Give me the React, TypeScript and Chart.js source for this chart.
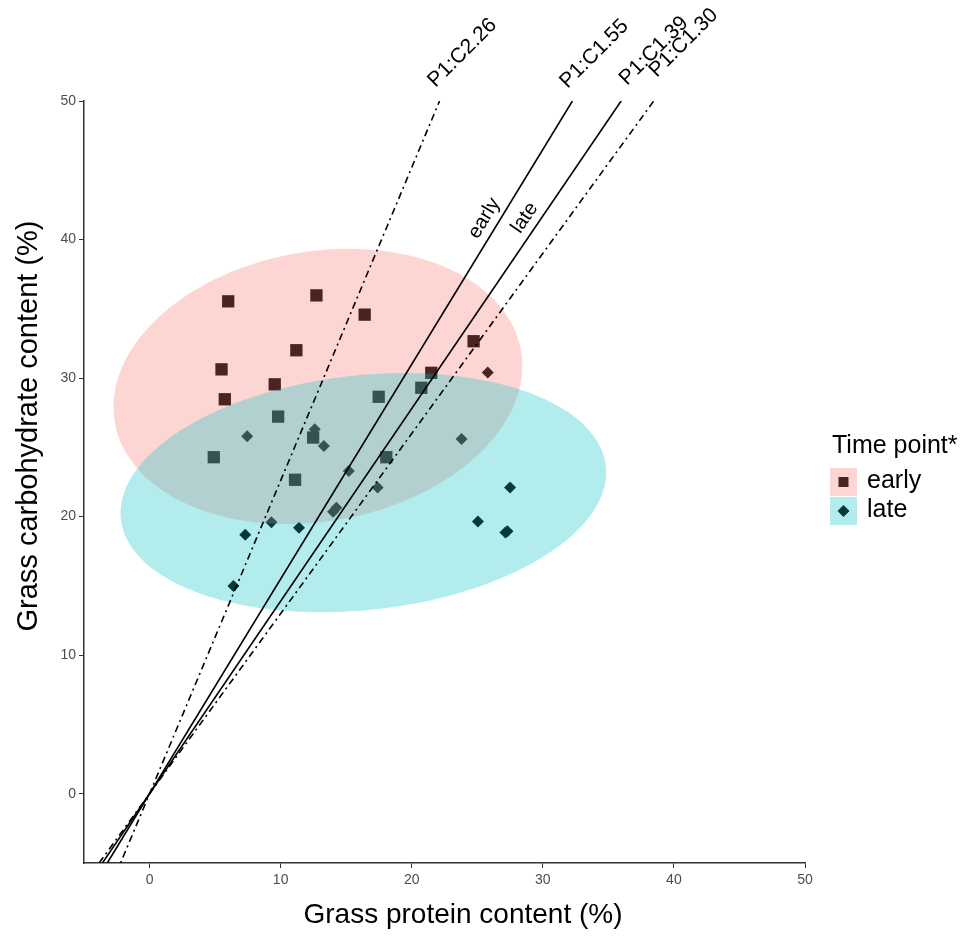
import React, { useEffect, useRef } from 'react';
import { Chart, registerables } from 'chart.js';

Chart.register(...registerables);

// ---------------- data ----------------
const earlyProtein = [6.0, 12.73, 16.41, 11.2, 5.49, 9.55, 5.74, 24.72, 21.49, 20.73, 17.48, 9.81, 12.48, 4.9, 18.06, 11.1];
const earlyCarb = [35.54, 35.97, 34.58, 32.01, 30.63, 29.55, 28.47, 32.66, 30.38, 29.3, 28.65, 27.22, 25.71, 24.29, 24.29, 22.66];

const lateProtein = [25.8, 7.45, 12.6, 13.3, 23.8, 15.2, 17.4, 27.5, 14.0, 14.25, 9.3, 11.4, 25.05, 27.15, 27.3, 7.3, 6.4];
const lateCarb = [30.4, 25.8, 26.3, 25.1, 25.6, 23.3, 22.1, 22.1, 20.35, 20.65, 19.6, 19.2, 19.65, 18.85, 18.95, 18.7, 15.0];

const groupNames = ['early', 'late'];
const legendTitle = 'Time point*';

const xTickValues = [0, 10, 20, 30, 40, 50];
const yTickValues = [0, 10, 20, 30, 40, 50];
const axisMin = [-5, -5];
const axisMax = [50, 50];

const ratioValues = [2.26, 1.55, 1.39, 1.3];
const ratioLabels = ['P1:C2.26', 'P1:C1.55', 'P1:C1.39', 'P1:C1.30'];
const ratioGroupLabels = ['', 'early', 'late', ''];
const ratioLineYRange = [-5, 50];

// confidence ellipses (data units): centre, half extents, correlation
const ellipseCenterX = [12.84, 16.31];
const ellipseCenterY = [29.4, 21.73];
const ellipseHalfWidth = [15.59, 18.52];
const ellipseHalfHeight = [9.93, 8.63];
const ellipseCorrelation = [0.15, 0.17];

const xTitle = 'Grass protein content (%)';
const yTitle = 'Grass carbohydrate content (%)';

// ---------------- styles / layout ----------------
const FONT = "'Liberation Sans', Arial, Helvetica, sans-serif";
const groupFill = ['rgba(248,118,109,0.3)', 'rgba(0,191,196,0.3)'];
const ratioDash: number[][] = [[2, 4, 7, 4], [], [], [7, 4, 2, 4]];
const labelNudge = [[-4, -13], [-5, -12], [6, -15], [3, -23]];
const groupLabelY = 41;

const overlayPlugin = {
  id: 'overlay',
  beforeDatasetsDraw(chart: any) {
    chart.$ellipsesDone = false;
  },
  beforeDatasetDraw(chart: any, args: any) {
    const ds = chart.data.datasets[args.index];
    if (!ds.isRatio || chart.$ellipsesDone) return;
    chart.$ellipsesDone = true;
    const { ctx, scales } = chart;
    const xs = scales.x;
    const ys = scales.y;
    ctx.save();
    for (let g = 0; g < 2; g++) {
      const cx = ellipseCenterX[g];
      const cy = ellipseCenterY[g];
      const wx = ellipseHalfWidth[g];
      const wy = ellipseHalfHeight[g];
      const r = ellipseCorrelation[g];
      const s = Math.sqrt(1 - r * r);
      ctx.beginPath();
      const N = 200;
      for (let i = 0; i <= N; i++) {
        const t = (2 * Math.PI * i) / N;
        const px = xs.getPixelForValue(cx + wx * Math.cos(t));
        const py = ys.getPixelForValue(cy + wy * (r * Math.cos(t) + s * Math.sin(t)));
        if (i === 0) ctx.moveTo(px, py);
        else ctx.lineTo(px, py);
      }
      ctx.closePath();
      ctx.fillStyle = groupFill[g];
      ctx.fill();
    }
    ctx.restore();
  },
  afterDraw(chart: any) {
    const { ctx, scales } = chart;
    const xs = scales.x;
    const ys = scales.y;
    ctx.save();
    ctx.fillStyle = '#000';

    // ratio labels at the line ends
    ctx.font = `21px ${FONT}`;
    ctx.textAlign = 'left';
    ctx.textBaseline = 'alphabetic';
    ratioValues.forEach((r, i) => {
      const yTop = ratioLineYRange[1];
      const ex = xs.getPixelForValue(yTop / r);
      const ey = ys.getPixelForValue(yTop);
      ctx.save();
      ctx.translate(ex + labelNudge[i][0], ey + labelNudge[i][1]);
      ctx.rotate(-Math.PI / 4);
      ctx.fillText(ratioLabels[i], 0, 0);
      ctx.restore();
    });

    // group labels along the solid lines
    ctx.font = `20px ${FONT}`;
    ctx.textAlign = 'center';
    ctx.textBaseline = 'middle';
    ratioValues.forEach((r, i) => {
      if (!ratioGroupLabels[i]) return;
      const x0 = xs.getPixelForValue(0), y0 = ys.getPixelForValue(0);
      const x1 = xs.getPixelForValue(50 / r), y1 = ys.getPixelForValue(50);
      const ang = Math.atan2(y1 - y0, x1 - x0);
      const px = xs.getPixelForValue(groupLabelY / r);
      const py = ys.getPixelForValue(groupLabelY);
      const off = 14;
      ctx.save();
      ctx.translate(px + off * Math.sin(ang), py - off * Math.cos(ang));
      ctx.rotate(ang);
      ctx.fillText(ratioGroupLabels[i], 0, 0);
      ctx.restore();
    });

    // axis titles
    ctx.font = `28px ${FONT}`;
    ctx.textAlign = 'center';
    ctx.textBaseline = 'middle';
    ctx.fillText(xTitle, 455, 907);
    ctx.font = `29px ${FONT}`;
    ctx.save();
    ctx.translate(21, 418);
    ctx.rotate(-Math.PI / 2);
    ctx.fillText(yTitle, 0, 0);
    ctx.restore();

    // legend
    ctx.font = `25px ${FONT}`;
    ctx.textAlign = 'left';
    ctx.textBaseline = 'middle';
    ctx.fillText(legendTitle, 824, 438);
    const boxX = 822, boxW = 27;
    const boxY = [460, 489];
    const boxH = [28, 28];
    for (let g = 0; g < 2; g++) {
      const cx = boxX + boxW / 2;
      const cy = boxY[g] + boxH[g] / 2;
      ctx.fillStyle = '#fff';
      ctx.fillRect(boxX, boxY[g], boxW, boxH[g]);
      ctx.fillStyle = '#000';
      ctx.beginPath();
      if (g === 0) {
        ctx.rect(cx - 5, cy - 5, 10, 10);
      } else {
        ctx.moveTo(cx, cy - 6);
        ctx.lineTo(cx + 6, cy);
        ctx.lineTo(cx, cy + 6);
        ctx.lineTo(cx - 6, cy);
        ctx.closePath();
      }
      ctx.fill();
      ctx.fillStyle = groupFill[g];
      ctx.fillRect(boxX, boxY[g], boxW, boxH[g]);
      ctx.fillStyle = '#000';
      ctx.font = `25px ${FONT}`;
      ctx.fillText(groupNames[g], 859, cy - 1);
    }
    ctx.restore();
  },
};

export default function App() {
  const canvasRef = useRef<HTMLCanvasElement | null>(null);

  useEffect(() => {
    if (!canvasRef.current) return;
    Chart.defaults.font.family = FONT;

    const ratioDatasets = ratioValues.map((r, i) => ({
      label: ratioLabels[i],
      isRatio: true,
      data: ratioLineYRange.map((yv) => ({ x: yv / r, y: yv })),
      showLine: true,
      borderColor: '#000',
      borderWidth: 1.6,
      borderDash: ratioDash[i],
      pointRadius: 0,
      fill: false,
      order: 1,
    }));

    const chart = new Chart(canvasRef.current, {
      type: 'scatter',
      data: {
        datasets: [
          {
            label: groupNames[0],
            data: earlyProtein.map((x, i) => ({ x, y: earlyCarb[i] })),
            pointStyle: 'rect',
            pointRadius: 8.7,
            backgroundColor: '#000',
            borderWidth: 0,
            order: 2,
          },
          {
            label: groupNames[1],
            data: lateProtein.map((x, i) => ({ x, y: lateCarb[i] })),
            pointStyle: 'rectRot',
            pointRadius: 6,
            backgroundColor: '#000',
            borderWidth: 0,
            order: 2,
          },
          ...ratioDatasets,
        ] as any,
      },
      options: {
        animation: false,
        responsive: true,
        maintainAspectRatio: false,
        layout: { padding: { top: 93, right: 160, bottom: 0, left: 0 } },
        plugins: { legend: { display: false }, tooltip: { enabled: false } },
        scales: {
          x: {
            type: 'linear',
            min: axisMin[0],
            max: axisMax[0],
            afterBuildTicks: (s: any) => {
              s.ticks = xTickValues.map((v) => ({ value: v }));
            },
            afterFit: (s: any) => {
              s.height = 68;
            },
            grid: { drawOnChartArea: false, drawTicks: true, tickLength: 5, color: '#333', lineWidth: 1 },
            border: { display: true, color: '#333', width: 1.5 },
            ticks: { color: '#4d4d4d', font: { size: 14 }, padding: 4, maxRotation: 0 },
          },
          y: {
            type: 'linear',
            min: axisMin[1],
            max: axisMax[1],
            afterBuildTicks: (s: any) => {
              s.ticks = yTickValues.map((v) => ({ value: v }));
            },
            afterFit: (s: any) => {
              s.width = 76;
            },
            grid: { drawOnChartArea: false, drawTicks: true, tickLength: 5, color: '#333', lineWidth: 1 },
            border: { display: true, color: '#333', width: 1.5 },
            ticks: { color: '#4d4d4d', font: { size: 14 }, padding: 3 },
          },
        },
      } as any,
      plugins: [overlayPlugin],
    });
    return () => chart.destroy();
  }, []);

  return (
    <div style={{ width: 957, height: 923, position: 'relative' }}>
      <canvas ref={canvasRef} />
    </div>
  );
}
